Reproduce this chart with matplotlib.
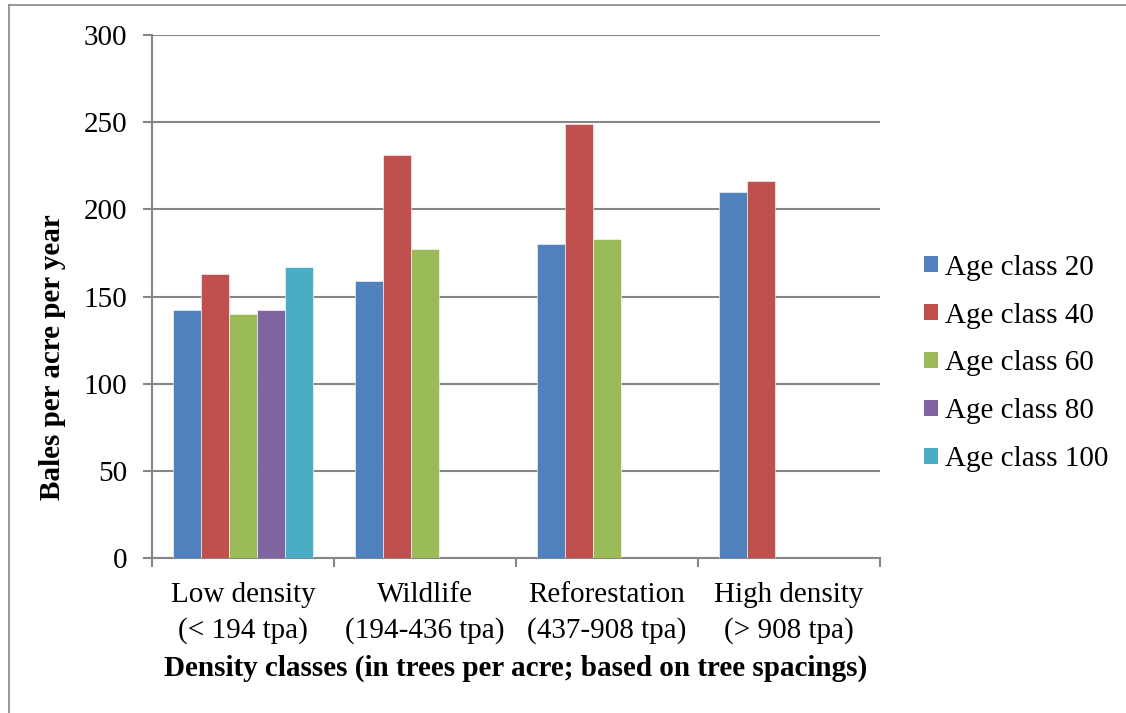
import numpy as np
import matplotlib
matplotlib.use("Agg")
import matplotlib.pyplot as plt
from matplotlib.lines import Line2D
from matplotlib.patches import Patch

# data
categories = ["Low density\n(< 194 tpa)", "Wildlife\n(194-436 tpa)",
              "Reforestation\n(437-908 tpa)", "High density\n(> 908 tpa)"]
series_names = ["Age class 20", "Age class 40", "Age class 60", "Age class 80", "Age class 100"]
age20 = [142, 159, 180, 210]
age40 = [163, 231, 249, 216]
age60 = [140, 177, 183, np.nan]
age80 = [142, np.nan, np.nan, np.nan]
age100 = [167, np.nan, np.nan, np.nan]
series_values = [age20, age40, age60, age80, age100]
colors = ["#4F81BD", "#C0504D", "#9BBB59", "#8064A2", "#4BACC6"]

plt.rcParams['font.family'] = ['Liberation Serif', 'DejaVu Serif']
FS = 21
GRAY = "#868686"

fig = plt.figure(figsize=(11.26, 7.13), dpi=100)
ax = fig.add_axes([152 / 1126, 1 - 558 / 713, 728 / 1126, 523 / 713])

n_cat = len(categories)
w = 1 / 6.5
for j, (vals, col) in enumerate(zip(series_values, colors)):
    x = np.arange(n_cat) + 0.75 * w + j * w
    ax.bar(x, vals, width=w, align='edge', color=col, edgecolor='white', linewidth=0.4, zorder=3)

ax.set_xlim(0, n_cat)
ax.set_ylim(0, 300)
ax.set_yticks(np.arange(0, 301, 50))
ax.grid(axis='y', color=GRAY, linewidth=1.5, zorder=0)
ax.set_xticks(np.arange(n_cat + 1))
ax.set_xticklabels([])
ax.set_xticks(np.arange(n_cat) + 0.5, minor=True)
ax.set_xticklabels(categories, minor=True, fontsize=FS, linespacing=1.45)
ax.tick_params(axis='x', which='minor', length=0, pad=17)
ax.tick_params(axis='x', which='major', length=6.5, width=1.5, color=GRAY)
ax.tick_params(axis='y', length=6.5, width=1.5, color=GRAY, labelsize=FS, pad=11.5)

for s in ['top', 'right']:
    ax.spines[s].set_visible(False)
for s in ['left', 'bottom']:
    ax.spines[s].set_color(GRAY)
    ax.spines[s].set_linewidth(1.5)

fig.text(516 / 1126, 1 - 668 / 713, "Density classes (in trees per acre; based on tree spacings)",
         fontsize=FS, fontweight='bold', ha='center', va='center')
fig.text(53 / 1126, 1 - 357 / 713, "Bales per acre per year", rotation=90,
         fontsize=FS, fontweight='bold', ha='center', va='center')

handles = [Patch(facecolor=c, edgecolor='none') for c in colors]
fig.legend(handles, series_names, loc='upper left', bbox_to_anchor=(912 / 1126, 1 - 243 / 713),
           frameon=False, fontsize=FS, handlelength=0.48, handleheight=0.48,
           handletextpad=0.25, labelspacing=0.75, borderaxespad=0)

# outer chart border (partly cropped in the reference)
fig.add_artist(Line2D([8.5 / 1126, 8.5 / 1126], [0, 1 - 5 / 713], color=GRAY, linewidth=1.2))
fig.add_artist(Line2D([8.5 / 1126, 1], [1 - 5 / 713, 1 - 5 / 713], color=GRAY, linewidth=1.2))

fig.savefig("out.png", dpi=100)
